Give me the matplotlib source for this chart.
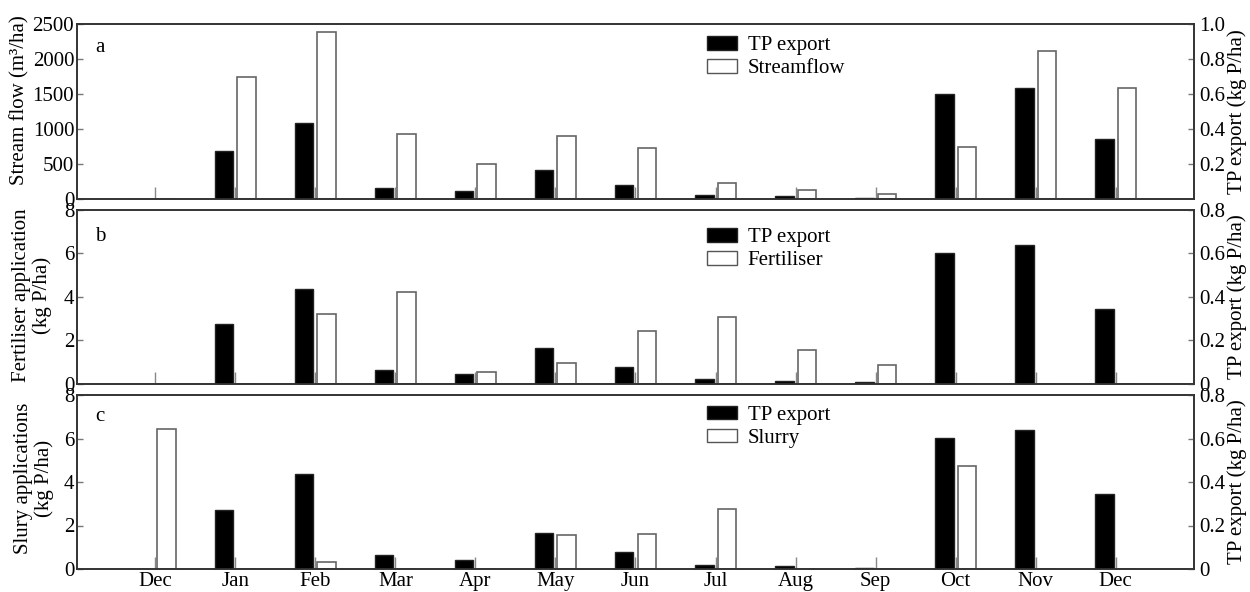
import numpy as np
import matplotlib.pyplot as plt
from matplotlib.patches import Patch

plt.rcParams['font.family'] = ['Liberation Serif', 'DejaVu Serif']
plt.rcParams['font.size'] = 15

months = ["Dec", "Jan", "Feb", "Mar", "Apr", "May", "Jun", "Jul", "Aug", "Sep", "Oct", "Nov", "Dec"]
tp_export = [0.0, 0.273, 0.436, 0.064, 0.043, 0.166, 0.078, 0.020, 0.014, 0.006, 0.603, 0.637, 0.345]
streamflow = [0, 1745, 2385, 923, 497, 903, 731, 221, 129, 63, 745, 2117, 1582]
fertiliser = [0, 0, 3.21, 4.21, 0.52, 0.94, 2.41, 3.09, 1.57, 0.86, 0, 0, 0]
slurry = [6.42, 0, 0.30, 0, 0, 1.56, 1.60, 2.74, 0, 0, 4.74, 0, 0]

W, H = 1250, 592
fig = plt.figure(figsize=(W / 100, H / 100), dpi=100)

x = np.arange(len(months))
bw = 0.235
gap = 0.025
edge = '#333333'

# (top px, bottom px, left values, left max, left ticks, right max, right ticks, legend name, letter, legend y, letter y)
panels = [
    (24.3, 198.7, streamflow, 2500, [0, 500, 1000, 1500, 2000, 2500],
     1.0, [0.2, 0.4, 0.6, 0.8, 1.0], 'Streamflow', 'a', 40.0, 47.0),
    (210.0, 383.7, fertiliser, 8, [0, 2, 4, 6, 8],
     0.8, [0, 0.2, 0.4, 0.6, 0.8], 'Fertiliser', 'b', 232.0, 236.7),
    (395.0, 569.0, slurry, 8, [0, 2, 4, 6, 8],
     0.8, [0, 0.2, 0.4, 0.6, 0.8], 'Slurry', 'c', 409.5, 416.7),
]

left, right = 77 / W, 1194 / W
for i, (top, bot, vals, lmax, lticks, rmax, rticks, name, letter, legy, lety) in enumerate(panels):
    ax = fig.add_axes([left, 1 - bot / H, right - left, (bot - top) / H])
    ax2 = ax.twinx()

    ax.bar(x + gap + bw / 2, vals, width=bw, color='white', edgecolor='#666666', linewidth=1.2)
    ax2.bar(x - gap - bw / 2, tp_export, width=bw, color='black', edgecolor='#222222', linewidth=1.0)

    ax.set_xlim(-0.98, 12.98)
    ax.set_ylim(0, lmax)
    ax2.set_ylim(0, rmax)
    ax.set_yticks(lticks)
    ax.set_yticklabels([str(t) for t in lticks])
    ax2.set_yticks(rticks)
    ax2.set_yticklabels(['0' if t == 0 else f'{t:.1f}' for t in rticks])

    ax.set_xticks(x)
    if i == 2:
        ax.set_xticklabels(months)
    else:
        ax.set_xticklabels([])
    ax.tick_params(axis='x', direction='in', length=9, width=1, color='#888888', pad=2)
    ax.tick_params(axis='y', direction='in', length=4, width=1, color='#777777', pad=2)
    ax2.tick_params(axis='y', direction='in', length=4, width=1, color='#777777', pad=4)

    for a in (ax, ax2):
        for s in a.spines.values():
            s.set_color(edge)
            s.set_linewidth(1.2)

    handles = [Patch(facecolor='black', edgecolor='#222222'),
               Patch(facecolor='white', edgecolor='#555555')]
    lx = (707 - 77) / 1117
    ly = 1 - (legy - 4 - top) / (bot - top)
    ax2.legend(handles, ['TP export', name], loc='upper left', bbox_to_anchor=(lx, ly),
               frameon=False, handlelength=1.45, handleheight=0.63, handletextpad=0.5,
               labelspacing=0.2, borderpad=0, borderaxespad=0)

    ax2.text((95 - 77) / 1117, 1 - (lety - top) / (bot - top), letter,
             transform=ax.transAxes, ha='left', va='center')

    # right axis label
    fig.text(1237 / W, 1 - (top + bot) / 2 / H, 'TP export (kg P/ha)',
             rotation=90, ha='center', va='center')

fig.text(20 / W, 1 - 100 / H, 'Stream flow (m³/ha)', rotation=90, ha='center', va='center')
fig.text(32 / W, 1 - 295 / H, 'Fertiliser application\n(kg P/ha)', rotation=90,
         ha='center', va='center', multialignment='center', linespacing=1.05)
fig.text(34 / W, 1 - 478 / H, 'Slury applications\n(kg P/ha)', rotation=90,
         ha='center', va='center', multialignment='center', linespacing=1.05)

fig.savefig('out.png', dpi=100)
